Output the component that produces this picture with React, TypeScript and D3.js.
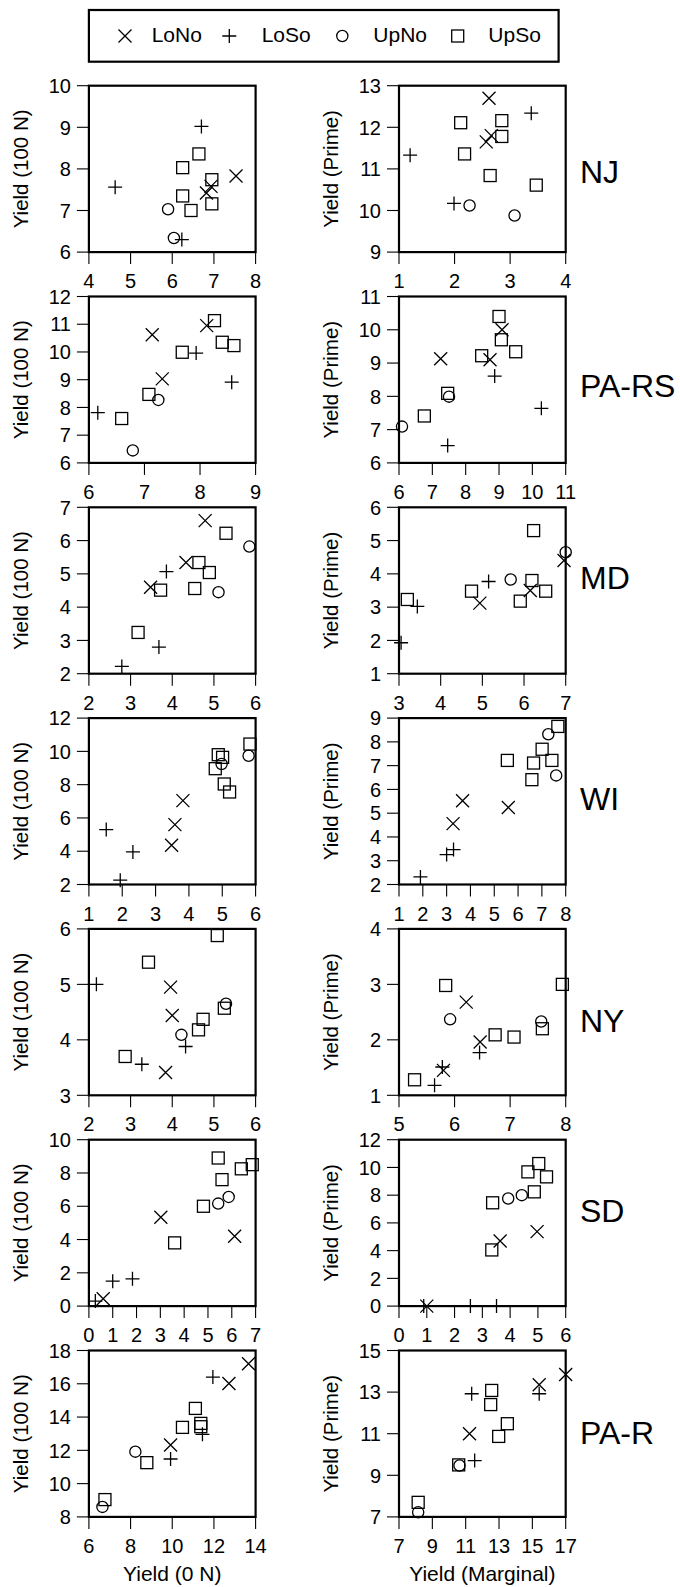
import React from "react";
import * as d3 from "d3";

// rows (site) and groups
const sites = ["NJ", "PA-RS", "MD", "WI", "NY", "SD", "PA-R"];
const groups = ["LoNo", "LoSo", "UpNo", "UpSo"];

// tick labels, one list per row
const leftXTicks = [
  [4, 5, 6, 7, 8],
  [6, 7, 8, 9],
  [2, 3, 4, 5, 6],
  [1, 2, 3, 4, 5, 6],
  [2, 3, 4, 5, 6],
  [0, 1, 2, 3, 4, 5, 6, 7],
  [6, 8, 10, 12, 14],
];
const leftYTicks = [
  [6, 7, 8, 9, 10],
  [6, 7, 8, 9, 10, 11, 12],
  [2, 3, 4, 5, 6, 7],
  [2, 4, 6, 8, 10, 12],
  [3, 4, 5, 6],
  [0, 2, 4, 6, 8, 10],
  [8, 10, 12, 14, 16, 18],
];
const rightXTicks = [
  [1, 2, 3, 4],
  [6, 7, 8, 9, 10, 11],
  [3, 4, 5, 6, 7],
  [1, 2, 3, 4, 5, 6, 7, 8],
  [5, 6, 7, 8],
  [0, 1, 2, 3, 4, 5, 6],
  [7, 9, 11, 13, 15, 17],
];
const rightYTicks = [
  [9, 10, 11, 12, 13],
  [6, 7, 8, 9, 10, 11],
  [1, 2, 3, 4, 5, 6],
  [2, 3, 4, 5, 6, 7, 8, 9],
  [1, 2, 3, 4],
  [0, 2, 4, 6, 8, 10, 12],
  [7, 9, 11, 13, 15],
];

// points: [group, x, y]
const njLeft = [
  ["LoNo", 6.82, 7.42], ["LoNo", 6.93, 7.58], ["LoNo", 7.53, 7.83],
  ["LoSo", 4.63, 7.56], ["LoSo", 6.7, 9.02], ["LoSo", 6.23, 6.3],
  ["UpNo", 5.9, 7.03], ["UpNo", 6.04, 6.34],
  ["UpSo", 6.64, 8.36], ["UpSo", 6.25, 8.03], ["UpSo", 6.25, 7.35],
  ["UpSo", 6.45, 7.0], ["UpSo", 6.95, 7.74], ["UpSo", 6.95, 7.16],
];
const njRight = [
  ["LoNo", 2.62, 12.7], ["LoNo", 2.57, 11.65], ["LoNo", 2.66, 11.8],
  ["LoSo", 3.38, 12.34], ["LoSo", 1.2, 11.33], ["LoSo", 1.99, 10.17],
  ["UpNo", 2.27, 10.12], ["UpNo", 3.08, 9.88],
  ["UpSo", 2.11, 12.11], ["UpSo", 2.85, 12.16], ["UpSo", 2.85, 11.78],
  ["UpSo", 2.18, 11.36], ["UpSo", 2.64, 10.84], ["UpSo", 3.47, 10.61],
];
const paRsLeft = [
  ["LoNo", 7.14, 10.62], ["LoNo", 7.32, 9.03], ["LoNo", 8.12, 10.95],
  ["LoSo", 6.16, 7.81], ["LoSo", 7.93, 9.96], ["LoSo", 8.57, 8.91],
  ["UpNo", 7.25, 8.27], ["UpNo", 6.79, 6.45],
  ["UpSo", 6.59, 7.6], ["UpSo", 7.08, 8.47], ["UpSo", 7.68, 9.99],
  ["UpSo", 8.26, 11.13], ["UpSo", 8.4, 10.35], ["UpSo", 8.61, 10.23],
];
const paRsRight = [
  ["LoNo", 7.25, 9.13], ["LoNo", 8.73, 9.1], ["LoNo", 9.09, 10.0],
  ["LoSo", 7.46, 6.52], ["LoSo", 8.87, 8.61], ["LoSo", 10.27, 7.64],
  ["UpNo", 6.09, 7.09], ["UpNo", 7.5, 7.99],
  ["UpSo", 6.76, 7.41], ["UpSo", 7.46, 8.09], ["UpSo", 8.48, 9.22],
  ["UpSo", 9.0, 10.4], ["UpSo", 9.07, 9.7], ["UpSo", 9.5, 9.34],
];
const mdLeft = [
  ["LoNo", 4.79, 6.6], ["LoNo", 4.33, 5.34], ["LoNo", 3.48, 4.6],
  ["LoSo", 3.86, 5.07], ["LoSo", 3.68, 2.8], ["LoSo", 2.79, 2.22],
  ["UpNo", 5.11, 4.45], ["UpNo", 5.85, 5.82],
  ["UpSo", 3.18, 3.24], ["UpSo", 3.72, 4.51], ["UpSo", 4.64, 5.34],
  ["UpSo", 4.89, 5.04], ["UpSo", 4.54, 4.56], ["UpSo", 5.29, 6.22],
];
const mdRight = [
  ["LoNo", 4.94, 3.12], ["LoNo", 6.15, 3.5], ["LoNo", 6.96, 4.4],
  ["LoSo", 3.05, 1.93], ["LoSo", 3.44, 3.02], ["LoSo", 5.15, 3.77],
  ["UpNo", 5.68, 3.83], ["UpNo", 7.0, 4.65],
  ["UpSo", 3.2, 3.23], ["UpSo", 4.74, 3.48], ["UpSo", 5.91, 3.18],
  ["UpSo", 6.19, 3.8], ["UpSo", 6.52, 3.48], ["UpSo", 6.23, 5.3],
];
const wiLeft = [
  ["LoNo", 3.48, 4.36], ["LoNo", 3.58, 5.6], ["LoNo", 3.82, 7.04],
  ["LoSo", 1.52, 5.3], ["LoSo", 2.32, 3.96], ["LoSo", 1.94, 2.26],
  ["UpNo", 4.98, 9.24], ["UpNo", 5.79, 9.74],
  ["UpSo", 4.79, 8.96], ["UpSo", 4.88, 9.8], ["UpSo", 5.01, 9.64],
  ["UpSo", 5.06, 8.04], ["UpSo", 5.22, 7.56], ["UpSo", 5.83, 10.44],
];
const wiRight = [
  ["LoNo", 3.27, 4.56], ["LoNo", 3.67, 5.52], ["LoNo", 5.59, 5.24],
  ["LoSo", 1.9, 2.32], ["LoSo", 3.0, 3.26], ["LoSo", 3.29, 3.47],
  ["UpNo", 7.27, 8.32], ["UpNo", 7.6, 6.59],
  ["UpSo", 5.55, 7.22], ["UpSo", 6.65, 7.11], ["UpSo", 6.58, 6.41],
  ["UpSo", 7.01, 7.69], ["UpSo", 7.42, 7.22], ["UpSo", 7.67, 8.65],
];
const nyLeft = [
  ["LoNo", 3.96, 4.95], ["LoNo", 4.0, 4.44], ["LoNo", 3.84, 3.41],
  ["LoSo", 2.18, 5.0], ["LoSo", 3.27, 3.56], ["LoSo", 4.32, 3.88],
  ["UpNo", 4.22, 4.09], ["UpNo", 5.29, 4.65],
  ["UpSo", 3.43, 5.4], ["UpSo", 2.87, 3.7], ["UpSo", 4.63, 4.18],
  ["UpSo", 4.74, 4.37], ["UpSo", 5.25, 4.57], ["UpSo", 5.08, 5.88],
];
const nyRight = [
  ["LoNo", 6.21, 2.68], ["LoNo", 6.46, 1.96], ["LoNo", 5.8, 1.45],
  ["LoSo", 6.45, 1.77], ["LoSo", 5.78, 1.51], ["LoSo", 5.64, 1.18],
  ["UpNo", 5.92, 2.37], ["UpNo", 7.56, 2.33],
  ["UpSo", 5.28, 1.28], ["UpSo", 5.84, 2.98], ["UpSo", 6.73, 2.09],
  ["UpSo", 7.07, 2.05], ["UpSo", 7.58, 2.2], ["UpSo", 7.94, 3.0],
];
const sdLeft = [
  ["LoNo", 0.6, 0.44], ["LoNo", 3.02, 5.34], ["LoNo", 6.12, 4.2],
  ["LoSo", 0.27, 0.3], ["LoSo", 1.0, 1.5], ["LoSo", 1.83, 1.64],
  ["UpNo", 5.43, 6.16], ["UpNo", 5.87, 6.56],
  ["UpSo", 3.6, 3.8], ["UpSo", 4.81, 6.0], ["UpSo", 5.59, 7.6],
  ["UpSo", 6.4, 8.25], ["UpSo", 6.86, 8.5], ["UpSo", 5.43, 8.9],
];
const sdRight = [
  ["LoNo", 1.0, 0], ["LoNo", 3.64, 4.69], ["LoNo", 4.97, 5.37],
  ["LoSo", 0.89, 0], ["LoSo", 2.57, 0], ["LoSo", 3.51, 0],
  ["UpNo", 3.93, 7.76], ["UpNo", 4.42, 8.0],
  ["UpSo", 3.34, 4.05], ["UpSo", 3.37, 7.45], ["UpSo", 4.64, 9.68],
  ["UpSo", 5.03, 10.28], ["UpSo", 4.87, 8.24], ["UpSo", 5.31, 9.32],
];
const paRLeft = [
  ["LoNo", 9.92, 12.32], ["LoNo", 12.72, 16.02], ["LoNo", 13.66, 17.2],
  ["LoSo", 9.92, 11.48], ["LoSo", 11.45, 12.96], ["LoSo", 11.95, 16.4],
  ["UpNo", 6.65, 8.6], ["UpNo", 8.23, 11.92],
  ["UpSo", 6.77, 9.04], ["UpSo", 8.78, 11.26], ["UpSo", 10.49, 13.38],
  ["UpSo", 11.11, 14.52], ["UpSo", 11.37, 13.62], ["UpSo", 11.37, 13.42],
];
const paRRight = [
  ["LoNo", 11.23, 11.0], ["LoNo", 15.41, 13.35], ["LoNo", 17.0, 13.85],
  ["LoSo", 11.36, 12.92], ["LoSo", 11.54, 9.71], ["LoSo", 15.41, 12.92],
  ["UpNo", 8.15, 7.22], ["UpNo", 10.63, 9.47],
  ["UpSo", 8.15, 7.7], ["UpSo", 10.58, 9.5], ["UpSo", 12.56, 13.08],
  ["UpSo", 12.5, 12.4], ["UpSo", 12.98, 10.87], ["UpSo", 13.5, 11.48],
];

const leftData = [njLeft, paRsLeft, mdLeft, wiLeft, nyLeft, sdLeft, paRLeft];
const rightData = [njRight, paRsRight, mdRight, wiRight, nyRight, sdRight, paRRight];

// layout
const W = 680;
const H = 1587;
const rowTop0 = 85.7;
const rowPitch = 210.8;
const panelW = 166.7;
const panelH = 166.4;
const leftX0 = 88.9;
const rightX0 = 399;
const siteLabelDy = [97, 100, 82, 92, 103, 82, 93];
const font = "'Liberation Sans', Arial, Helvetica, sans-serif";

const Marker = ({ type, x, y }: { type: string; x: number; y: number }) => {
  const s = 6.5;
  const common = { stroke: "#000", strokeWidth: 1.3, fill: "none" };
  if (type === "LoNo")
    return <path d={`M${x - s},${y - s}L${x + s},${y + s}M${x - s},${y + s}L${x + s},${y - s}`} {...common} />;
  if (type === "LoSo")
    return <path d={`M${x - s - 0.5},${y}L${x + s + 0.5},${y}M${x},${y - s - 0.5}L${x},${y + s + 0.5}`} {...common} />;
  if (type === "UpNo") return <circle cx={x} cy={y} r={5.6} {...common} />;
  return <rect x={x - 6} y={y - 6} width={12} height={12} {...common} />;
};

const Panel = ({ x0, y0, xTicks, yTicks, data, yTitle }: any) => {
  const x = d3.scaleLinear().domain([xTicks[0], xTicks[xTicks.length - 1]]).range([x0, x0 + panelW]);
  const y = d3.scaleLinear().domain([yTicks[0], yTicks[yTicks.length - 1]]).range([y0 + panelH, y0]);
  const bottom = y0 + panelH;
  return (
    <g>
      {xTicks.map((t: number) => (
        <g key={"x" + t}>
          <line x1={x(t)} x2={x(t)} y1={bottom} y2={bottom + 12} stroke="#000" strokeWidth={1.1} />
          <text x={x(t)} y={bottom + 36} textAnchor="middle" fontSize={20}>
            {t}
          </text>
        </g>
      ))}
      {yTicks.map((t: number) => (
        <g key={"y" + t}>
          <line x1={x0 - 12} x2={x0} y1={y(t)} y2={y(t)} stroke="#000" strokeWidth={1.1} />
          <text x={x0 - 18} y={y(t) + 7.2} textAnchor="end" fontSize={20}>
            {t}
          </text>
        </g>
      ))}
      <text
        transform={`translate(${x0 - 61},${y0 + panelH / 2}) rotate(-90)`}
        textAnchor="middle"
        fontSize={20.5}
      >
        {yTitle}
      </text>
      {data.map((d: any, i: number) => (
        <Marker key={i} type={d[0]} x={x(d[1])} y={y(d[2])} />
      ))}
      <rect x={x0} y={y0} width={panelW} height={panelH} fill="none" stroke="#000" strokeWidth={2.2} />
    </g>
  );
};

const legendX = [125, 229.3, 342.3, 457.7];
const legendTextX = [151.7, 261.7, 373.3, 488.3];

export default function App() {
  const lastBottom = rowTop0 + rowPitch * (sites.length - 1) + panelH;
  return (
    <svg
      width={W}
      height={H}
      style={{ position: "absolute", left: 0, top: 0, background: "#fff" }}
      fontFamily={font}
    >
      <rect x={0} y={0} width={W} height={H} fill="#fff" />
      <rect x={88.9} y={10} width={469.7} height={51.7} fill="none" stroke="#000" strokeWidth={2.2} />
      {groups.map((g, i) => (
        <g key={g}>
          <Marker type={g} x={legendX[i]} y={36} />
          <text x={legendTextX[i]} y={42} fontSize={21}>
            {g}
          </text>
        </g>
      ))}
      {sites.map((s, i) => {
        const y0 = rowTop0 + rowPitch * i;
        return (
          <g key={s}>
            <Panel x0={leftX0} y0={y0} xTicks={leftXTicks[i]} yTicks={leftYTicks[i]} data={leftData[i]} yTitle="Yield (100 N)" />
            <Panel x0={rightX0} y0={y0} xTicks={rightXTicks[i]} yTicks={rightYTicks[i]} data={rightData[i]} yTitle="Yield (Prime)" />
            <text x={580} y={y0 + siteLabelDy[i]} fontSize={32}>
              {s}
            </text>
          </g>
        );
      })}
      <text x={leftX0 + panelW / 2} y={lastBottom + 64.5} textAnchor="middle" fontSize={21}>
        Yield (0 N)
      </text>
      <text x={rightX0 + panelW / 2} y={lastBottom + 64.5} textAnchor="middle" fontSize={21}>
        Yield (Marginal)
      </text>
    </svg>
  );
}
